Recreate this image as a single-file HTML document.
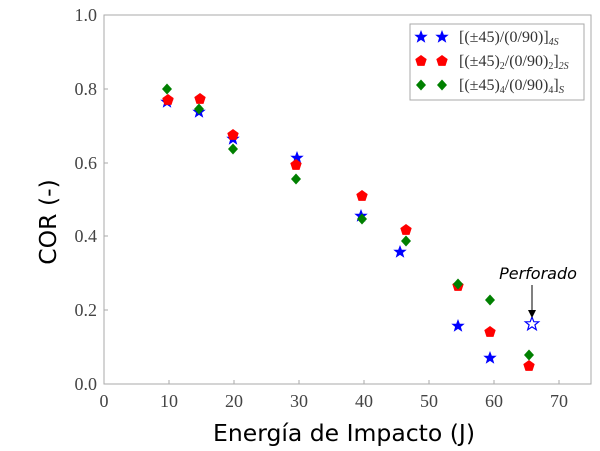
<!DOCTYPE html>
<html><head><meta charset="utf-8"><style>body{margin:0;background:#fff}svg{display:block}</style></head><body>
<svg width="600" height="451" xmlns="http://www.w3.org/2000/svg">
<defs>
<path id="st" d="M0,-7 L1.8,-2.3 6.7,-2.2 2.9,0.9 4.3,5.7 0,2.9 -4.3,5.7 -2.9,0.9 -6.7,-2.2 -1.8,-2.3Z"/>
<path id="pt" d="M0,-6 L5.7,-1.9 3.5,4.9 -3.5,4.9 -5.7,-1.9Z"/>
<path id="dm" d="M0,-5.5 L5,0 0,5.5 -5,0Z"/>
</defs>
<rect x="104" y="15" width="487" height="369" fill="none" stroke="#aaa" stroke-width="1"/>
<g stroke="#aaa">
<line x1="169" y1="384" x2="169" y2="380"/><line x1="234" y1="384" x2="234" y2="380"/><line x1="299" y1="384" x2="299" y2="380"/><line x1="364" y1="384" x2="364" y2="380"/><line x1="429" y1="384" x2="429" y2="380"/><line x1="494" y1="384" x2="494" y2="380"/><line x1="559" y1="384" x2="559" y2="380"/>
<line x1="104" y1="310" x2="108" y2="310"/><line x1="104" y1="236" x2="108" y2="236"/><line x1="104" y1="163" x2="108" y2="163"/><line x1="104" y1="89" x2="108" y2="89"/>
</g>
<g font-family="Liberation Serif, serif" font-size="18" fill="#444" text-anchor="middle">
<text x="104" y="407">0</text><text x="169" y="407">10</text><text x="234" y="407">20</text><text x="299" y="407">30</text><text x="364" y="407">40</text><text x="429" y="407">50</text><text x="494" y="407">60</text><text x="559" y="407">70</text>
</g>
<g font-family="Liberation Serif, serif" font-size="18" fill="#444" text-anchor="end">
<text x="97" y="390">0.0</text><text x="97" y="316">0.2</text><text x="97" y="242">0.4</text><text x="97" y="169">0.6</text><text x="97" y="95">0.8</text><text x="97" y="21">1.0</text>
</g>
<text x="344" y="441" font-family="DejaVu Sans, sans-serif" font-size="23.5" text-anchor="middle">Energía de Impacto (J)</text>
<text transform="translate(56,222) rotate(-90)" font-family="DejaVu Sans, sans-serif" font-size="23.5" text-anchor="middle">COR (-)</text>
<g fill="blue">
<use href="#st" x="167" y="102"/><use href="#st" x="199" y="112"/><use href="#st" x="233" y="139"/><use href="#st" x="297" y="158"/><use href="#st" x="361" y="216"/><use href="#st" x="400" y="252"/><use href="#st" x="458" y="326"/><use href="#st" x="490" y="358"/>
</g>
<use href="#st" x="532" y="324" fill="none" stroke="blue" stroke-width="1.2"/>
<g fill="red">
<use href="#pt" x="168" y="100"/><use href="#pt" x="200" y="99"/><use href="#pt" x="233" y="135"/><use href="#pt" x="296" y="165"/><use href="#pt" x="362" y="196"/><use href="#pt" x="406" y="230"/><use href="#pt" x="458" y="286"/><use href="#pt" x="490" y="332"/><use href="#pt" x="529" y="366"/>
</g>
<g fill="green">
<use href="#dm" x="167" y="89"/><use href="#dm" x="199" y="109"/><use href="#dm" x="233" y="149"/><use href="#dm" x="296" y="179"/><use href="#dm" x="362" y="219"/><use href="#dm" x="406" y="241"/><use href="#dm" x="458" y="284"/><use href="#dm" x="490" y="300"/><use href="#dm" x="529" y="355"/>
</g>
<text x="538" y="279" font-family="DejaVu Sans, sans-serif" font-style="italic" font-size="16" text-anchor="middle">Perforado</text>
<line x1="532" y1="285" x2="532" y2="311" stroke="#000" stroke-width="1"/>
<path d="M528,310 L532,318 536,310Z" fill="#000"/>
<rect x="410" y="24" width="174" height="76" fill="#fff" stroke="#aaa"/>
<g fill="blue"><use href="#st" x="421" y="37"/><use href="#st" x="442" y="37"/></g>
<g fill="red"><use href="#pt" x="421" y="61"/><use href="#pt" x="442" y="61"/></g>
<g fill="green"><use href="#dm" x="421" y="85"/><use href="#dm" x="442" y="85"/></g>
<g font-family="Liberation Serif, serif" font-size="16" fill="#333">
<text x="459" y="42">[(±45)/(0/90)]<tspan font-size="10" dy="3" font-style="italic">4S</tspan></text>
<text x="459" y="66">[(±45)<tspan font-size="10" dy="3">2</tspan><tspan dy="-3">/(0/90)</tspan><tspan font-size="10" dy="3">2</tspan><tspan dy="-3">]</tspan><tspan font-size="10" dy="3" font-style="italic">2S</tspan></text>
<text x="459" y="90">[(±45)<tspan font-size="10" dy="3">4</tspan><tspan dy="-3">/(0/90)</tspan><tspan font-size="10" dy="3">4</tspan><tspan dy="-3">]</tspan><tspan font-size="11" dy="3" font-style="italic">S</tspan></text>
</g>
</svg>
</body></html>
